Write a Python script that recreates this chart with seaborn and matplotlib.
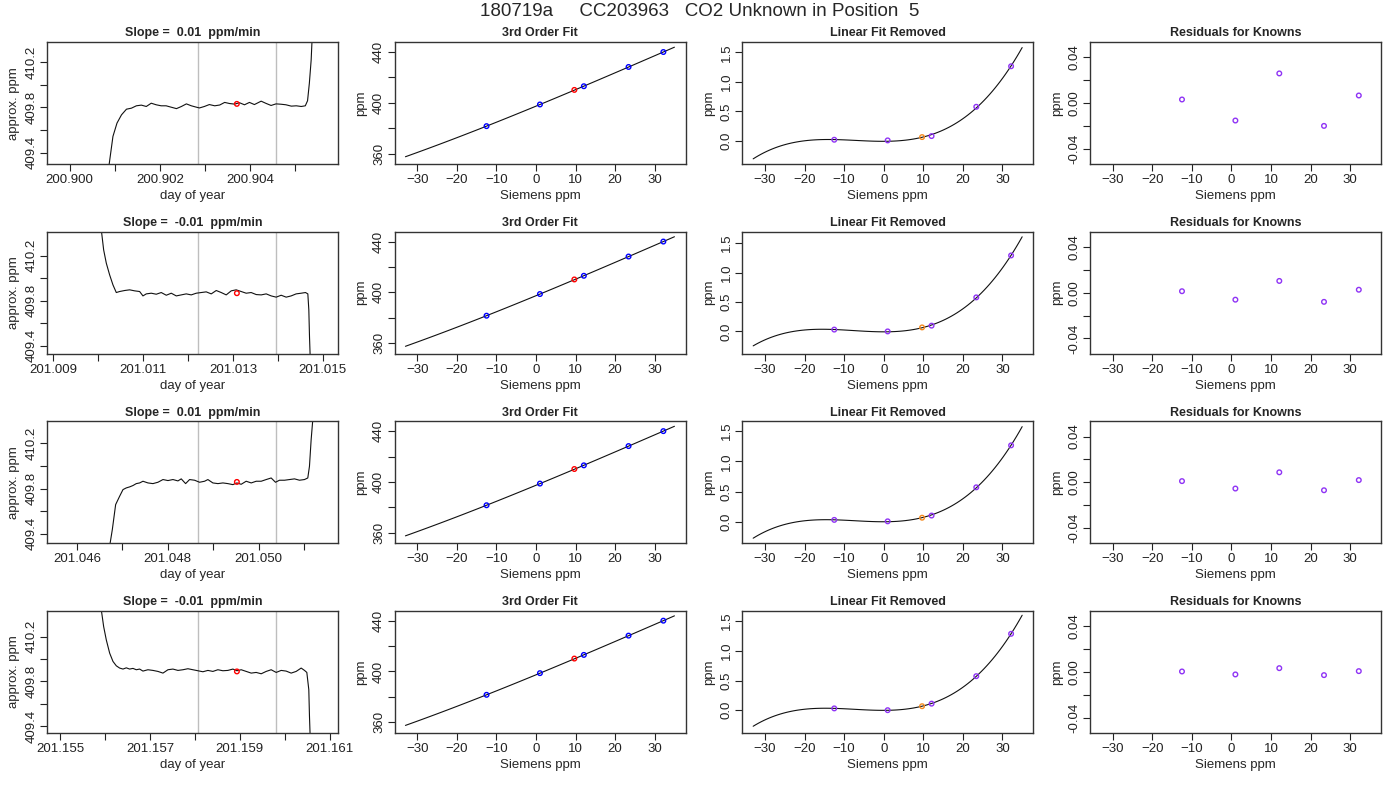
import numpy as np
import pandas as pd
import matplotlib
matplotlib.use("Agg")
import matplotlib.pyplot as plt
import seaborn as sns

# --- data ---
main_title = "180719a     CC203963   CO2 Unknown in Position  5"
slope_titles = ["Slope =  0.01  ppm/min", "Slope =  -0.01  ppm/min",
                "Slope =  0.01  ppm/min", "Slope =  -0.01  ppm/min"]

# left column: analyzer trace (day of year, approx. ppm)
trace_t1 = [200.90086, 200.90096, 200.90105, 200.90115, 200.90126, 200.90137, 200.90148, 200.90159,
            200.90170, 200.90181, 200.90192, 200.90203, 200.90214, 200.90225, 200.90237, 200.90248,
            200.90259, 200.90270, 200.90281, 200.90288, 200.90299, 200.90310, 200.90322, 200.90333,
            200.90344, 200.90355, 200.90366, 200.90377, 200.90388, 200.90399, 200.90410, 200.90425,
            200.90436, 200.90447, 200.90458, 200.90469, 200.90480, 200.90492, 200.90503, 200.90514,
            200.90523, 200.90528, 200.90532, 200.90536, 200.90538]
trace_y1 = [409.25, 409.544, 409.662, 409.735, 409.785, 409.794, 409.815, 409.821,
            409.809, 409.838, 409.824, 409.815, 409.815, 409.803, 409.790, 409.809,
            409.832, 409.815, 409.803, 409.796, 409.809, 409.826, 409.815, 409.822,
            409.845, 409.835, 409.830, 409.842, 409.824, 409.845, 409.826, 409.856,
            409.836, 409.818, 409.832, 409.829, 409.824, 409.812, 409.815, 409.809,
            409.815, 409.860, 410.015, 410.220, 410.400]

trace_t2 = [201.010074, 201.010126, 201.010185, 201.010259, 201.010333, 201.010407, 201.010481,
            201.010593, 201.010704, 201.010815, 201.010926, 201.011000, 201.011074, 201.011185,
            201.011296, 201.011407, 201.011519, 201.011630, 201.011741, 201.011852, 201.011963,
            201.012074, 201.012185, 201.012296, 201.012407, 201.012519, 201.012630, 201.012741,
            201.012852, 201.012963, 201.013074, 201.013185, 201.013296, 201.013407, 201.013519,
            201.013630, 201.013741, 201.013852, 201.013963, 201.014074, 201.014185, 201.014296,
            201.014407, 201.014519, 201.014615, 201.014667, 201.014689, 201.014704, 201.014719]
trace_y2 = [410.431, 410.253, 410.135, 410.031, 409.942, 409.874, 409.883,
            409.892, 409.898, 409.889, 409.883, 409.844, 409.862, 409.868,
            409.859, 409.874, 409.850, 409.868, 409.844, 409.853, 409.862,
            409.853, 409.868, 409.874, 409.880, 409.862, 409.892, 409.874,
            409.853, 409.889, 409.898, 409.883, 409.868, 409.874, 409.856,
            409.853, 409.862, 409.844, 409.833, 409.850, 409.833, 409.844,
            409.862, 409.868, 409.874, 409.862, 409.720, 409.483, 409.305]

trace_t3 = [201.046719, 201.046778, 201.046851, 201.046939, 201.047013, 201.047086, 201.047160,
            201.047233, 201.047306, 201.047380, 201.047453, 201.047563, 201.047673, 201.047783,
            201.047894, 201.048004, 201.048114, 201.048224, 201.048297, 201.048393, 201.048481,
            201.048591, 201.048701, 201.048811, 201.048884, 201.048994, 201.049105, 201.049215,
            201.049325, 201.049435, 201.049523, 201.049618, 201.049728, 201.049839, 201.049949,
            201.050059, 201.050169, 201.050279, 201.050374, 201.050462, 201.050573, 201.050683,
            201.050793, 201.050903, 201.051013, 201.051086, 201.051123, 201.051160, 201.051196]
trace_y3 = [409.290, 409.437, 409.658, 409.732, 409.791, 409.806, 409.815,
            409.827, 409.844, 409.850, 409.865, 409.850, 409.844, 409.856,
            409.880, 409.871, 409.880, 409.868, 409.886, 409.844, 409.880,
            409.874, 409.856, 409.865, 409.880, 409.850, 409.844, 409.850,
            409.844, 409.835, 409.850, 409.838, 409.865, 409.850, 409.865,
            409.865, 409.880, 409.894, 409.856, 409.874, 409.874, 409.880,
            409.886, 409.874, 409.880, 409.894, 409.998, 410.234, 410.410]

trace_t4 = [201.155913, 201.155965, 201.156024, 201.156099, 201.156173, 201.156247, 201.156321,
            201.156396, 201.156470, 201.156544, 201.156618, 201.156693, 201.156767, 201.156841,
            201.156952, 201.157064, 201.157175, 201.157287, 201.157398, 201.157509, 201.157621,
            201.157732, 201.157843, 201.157955, 201.158066, 201.158177, 201.158289, 201.158400,
            201.158511, 201.158623, 201.158734, 201.158846, 201.158935, 201.159031, 201.159143,
            201.159254, 201.159365, 201.159477, 201.159588, 201.159699, 201.159811, 201.159922,
            201.160033, 201.160145, 201.160256, 201.160368, 201.160442, 201.160494, 201.160538,
            201.160553, 201.160568]
trace_y4 = [410.437, 410.289, 410.170, 410.052, 409.978, 409.939, 409.919,
            409.910, 409.921, 409.910, 409.916, 409.904, 409.910, 409.892,
            409.904, 409.898, 409.889, 409.874, 409.904, 409.910, 409.898,
            409.904, 409.913, 409.904, 409.895, 409.886, 409.898, 409.889,
            409.904, 409.895, 409.898, 409.910, 409.895, 409.904, 409.889,
            409.874, 409.880, 409.868, 409.889, 409.904, 409.880, 409.898,
            409.892, 409.874, 409.889, 409.919, 409.898, 409.880, 409.726,
            409.489, 409.311]

traces_t = [trace_t1, trace_t2, trace_t3, trace_t4]
traces_y = [trace_y1, trace_y2, trace_y3, trace_y4]

# averaging window (gray lines) and mean value (red point)
window_start = [200.90285, 201.012230, 201.048672, 201.158073]
window_end = [200.90458, 201.013963, 201.050389, 201.159811]
mean_t = [200.90371, 201.013089, 201.049523, 201.158935]
mean_y = [409.832, 409.868, 409.859, 409.889]

trace_xlim = [(200.899497, 200.905951), (201.008867, 201.015333),
              (201.045339, 201.051747), (201.154703, 201.161184)]
trace_ylim = [(409.297, 410.380), (409.329, 410.416), (409.314, 410.398), (409.340, 410.431)]
day_ticks = [[200.900, 200.901, 200.902, 200.903, 200.904, 200.905],
             [201.009, 201.010, 201.011, 201.012, 201.013, 201.014, 201.015],
             [201.046, 201.047, 201.048, 201.049, 201.050, 201.051],
             [201.155, 201.156, 201.157, 201.158, 201.159, 201.160, 201.161]]
day_labels = [["200.900", "", "200.902", "", "200.904", ""],
              ["201.009", "", "201.011", "", "201.013", "", "201.015"],
              ["201.046", "", "201.048", "", "201.050", ""],
              ["201.155", "", "201.157", "", "201.159", "", "201.161"]]
trace_yticks = [409.4, 409.6, 409.8, 410.0, 410.2]
trace_ylabels = ["409.4", "", "409.8", "", "410.2"]

# standards (knowns) and unknown vs Siemens
siemens_known = [-12.5, 1.0, 12.1, 23.4, 32.2]
siemens_unknown = 9.7
ppm_known = [381.6, 398.7, 413.1, 428.3, 440.1]
ppm_unknown = 410.2

# linear fit removed, per row
lin_removed_known = [[0.022, 0.011, 0.084, 0.579, 1.264],
                     [0.031, 0.000, 0.098, 0.578, 1.290],
                     [0.030, 0.006, 0.102, 0.570, 1.266],
                     [0.030, 0.000, 0.110, 0.573, 1.287]]
lin_removed_unknown = [0.067, 0.068, 0.066, 0.067]
lin_removed_ylim = [(-0.393, 1.674), (-0.381, 1.696), (-0.360, 1.668), (-0.384, 1.677)]

# residuals for knowns, per row
residuals = [[0.0032, -0.0152, 0.0260, -0.0199, 0.0067],
             [0.0013, -0.0061, 0.0103, -0.0080, 0.0026],
             [0.0010, -0.0055, 0.0087, -0.0070, 0.0019],
             [0.0003, -0.0023, 0.0032, -0.0029, 0.0006]]

fit_range = (-33, 35)
siemens_xlim = (-35.7, 37.8)
siemens_ticks = [-30, -20, -10, 0, 10, 20, 30]

# --- style ---
sns.set_style("ticks")
plt.rcParams['font.family'] = ['Liberation Sans', 'DejaVu Sans']
plt.rcParams['axes.linewidth'] = 1.0
plt.rcParams['axes.edgecolor'] = '#333333'

purple = '#8f33f5'
orange = '#f58a1f'

fig, axes = plt.subplots(4, 4, figsize=(14, 8), dpi=100)
fig.subplots_adjust(left=0.0336, right=0.9864, top=0.9475, bottom=0.0838,
                    wspace=0.196, hspace=0.55)


def r_style(ax, title, xlabel, ylabel):
    for s in ax.spines.values():
        s.set_visible(True)
    ax.tick_params(direction='out', length=5, width=0.8, labelsize=9.5, pad=2,
                   top=False, right=False, colors='#222222')
    ax.tick_params(axis='y', labelrotation=90)
    for lab in ax.get_yticklabels():
        lab.set_va('center')
    ax.set_title(title, fontsize=9, fontweight='bold', pad=4)
    ax.set_xlabel(xlabel, fontsize=9.5, labelpad=3)
    ax.set_ylabel(ylabel, fontsize=9.5, labelpad=4)


def open_points(ax, x, y, color):
    sns.scatterplot(x=x, y=y, ax=ax, marker='o', s=11, facecolor='none',
                    edgecolor=color, linewidth=1.0, zorder=5, legend=False)


for r in range(4):
    # 1. analyzer trace
    ax = axes[r, 0]
    df = pd.DataFrame({'t': traces_t[r], 'y': traces_y[r]})
    ax.axvline(window_start[r], color='#bebebe', lw=1)
    ax.axvline(window_end[r], color='#bebebe', lw=1)
    sns.lineplot(data=df, x='t', y='y', ax=ax, sort=False, estimator=None,
                 color='#111111', lw=0.8)
    open_points(ax, [mean_t[r]], [mean_y[r]], 'red')
    ax.set_xlim(*trace_xlim[r])
    ax.set_ylim(*trace_ylim[r])
    ax.set_xticks(day_ticks[r], day_labels[r])
    ax.set_yticks(trace_yticks, trace_ylabels)
    r_style(ax, slope_titles[r], "day of year", "approx. ppm")

    # 2. 3rd order fit
    ax = axes[r, 1]
    ax.set_xlim(*fit_range)
    sns.regplot(x=siemens_known, y=ppm_known, order=3, ci=None, scatter=False,
                truncate=False, ax=ax, line_kws=dict(color='#111111', lw=0.8))
    open_points(ax, siemens_known, ppm_known, 'blue')
    open_points(ax, [siemens_unknown], [ppm_unknown], 'red')
    ax.set_xlim(*siemens_xlim)
    ax.set_ylim(351.5, 448)
    ax.set_xticks(siemens_ticks)
    ax.set_yticks([360, 380, 400, 420, 440], ["360", "", "400", "", "440"])
    r_style(ax, "3rd Order Fit", "Siemens ppm", "ppm")

    # 3. linear fit removed
    ax = axes[r, 2]
    ax.set_xlim(*fit_range)
    sns.regplot(x=siemens_known, y=lin_removed_known[r], order=3, ci=None, scatter=False,
                truncate=False, ax=ax, line_kws=dict(color='#111111', lw=0.8))
    open_points(ax, siemens_known, lin_removed_known[r], purple)
    open_points(ax, [siemens_unknown], [lin_removed_unknown[r]], orange)
    ax.set_xlim(*siemens_xlim)
    ax.set_ylim(*lin_removed_ylim[r])
    ax.set_xticks(siemens_ticks)
    ax.set_yticks([0.0, 0.5, 1.0, 1.5], ["0.0", "0.5", "1.0", "1.5"])
    r_style(ax, "Linear Fit Removed", "Siemens ppm", "ppm")

    # 4. residuals
    ax = axes[r, 3]
    open_points(ax, siemens_known, residuals[r], purple)
    ax.set_xlim(*siemens_xlim)
    ax.set_ylim(-0.0535, 0.0535)
    ax.set_xticks(siemens_ticks)
    ax.set_yticks([-0.04, -0.02, 0.0, 0.02, 0.04], ["-0.04", "", "0.00", "", "0.04"])
    r_style(ax, "Residuals for Knowns", "Siemens ppm", "ppm")

fig.text(0.5, 0.985, main_title, ha='center', va='center', fontsize=13.5)

fig.savefig("out.png", dpi=100)
